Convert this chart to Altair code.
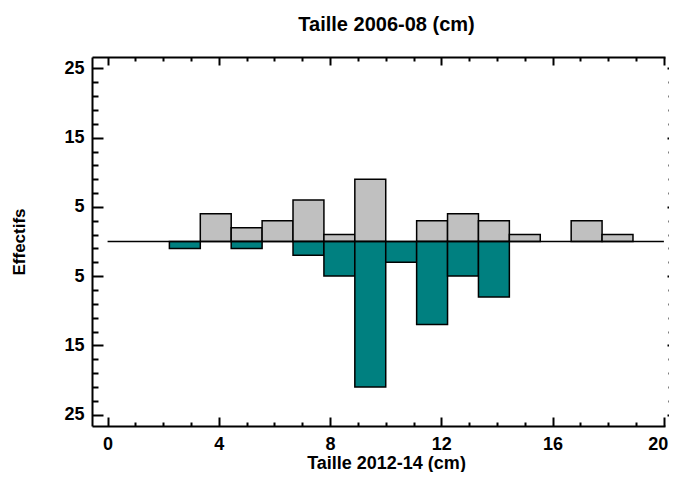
import altair as alt
import pandas as pd

# histogram counts per bin (18 bins of width 20/18 on 0..20)
bin_width = 20 / 18
grey_2006 = [0, 0, 0, 4, 2, 3, 6, 1, 9, 0, 3, 4, 3, 1, 0, 3, 1, 0]
teal_2012 = [0, 0, 1, 0, 1, 0, 2, 5, 21, 3, 12, 5, 8, 0, 0, 0, 0, 0]

x_major = [0, 4, 8, 12, 16, 20]
x_minor = [1, 2, 3, 5, 6, 7, 9, 10, 11, 13, 14, 15, 17, 18, 19]
y_major = [-25, -15, -5, 5, 15, 25]
y_minor = [-23, -21, -19, -17, -13, -11, -9, -7, -3, -1, 1, 3, 7, 9, 11, 13, 17, 19, 21, 23]
x_domain = [-0.56, 20.04]
y_domain = [-26.65, 26.65]
baseline_x = [0]
baseline_x2 = [20]

FONT = "Liberation Sans"

rows = []
for i, (g, t) in enumerate(zip(grey_2006, teal_2012)):
    rows.append({"x0": i * bin_width, "x1": (i + 1) * bin_width, "grey": g, "teal": -t, "zero": 0})
df = pd.DataFrame(rows)
grey_df = df[df.grey > 0]
teal_df = df[df.teal < 0]
base_df = pd.DataFrame({"x0": baseline_x, "x1": baseline_x2, "y": [0]})

xs = alt.Scale(domain=x_domain, nice=False, zero=False)
ys = alt.Scale(domain=y_domain, nice=False, zero=False)


def ax(orient, values, offset, size, labels=False, domain=False, ticks=True, title=None, **kw):
    args = dict(orient=orient, values=values, offset=offset, tickSize=size, labels=labels,
                domain=domain, ticks=ticks, grid=False, title=title)
    args.update(kw)
    return alt.Axis(**args)


grey = alt.Chart(grey_df).mark_bar(color="#C0C0C0", stroke="black", strokeWidth=1.5).encode(
    x=alt.X("x0:Q", scale=xs,
            axis=ax("bottom", x_major, -9, 9, labels=True, title="Taille 2012-14 (cm)",
                    labelPadding=9, labelFlush=5, labelFlushOffset=4,
                    titlePadding=1, titleFontSize=18, titleX=294)),
    x2="x1:Q",
    y=alt.Y("grey:Q", scale=ys,
            axis=ax("left", y_major, -11, 11, labels=True, title="Effectifs",
                    labelPadding=8, titlePadding=35, labelExpr="abs(datum.value)")),
    y2="zero:Q",
)

teal = alt.Chart(teal_df).mark_bar(color="#008080", stroke="black", strokeWidth=1.5).encode(
    x=alt.X("x0:Q", scale=xs, axis=ax("bottom", x_minor, -4, 4)),
    x2="x1:Q",
    y=alt.Y("teal:Q", scale=ys, axis=ax("left", y_minor, -6, 6)),
    y2="zero:Q",
)

base = alt.Chart(base_df).mark_rule(color="black", strokeWidth=1.5).encode(
    x=alt.X("x0:Q", scale=xs, axis=ax("top", x_major, -8, 8)),
    x2="x1:Q",
    y=alt.Y("y:Q", scale=ys, axis=ax("right", y_major, 2, 10)),
)

hid1 = alt.Chart(base_df).mark_rule(opacity=0).encode(
    x=alt.X("x0:Q", scale=xs, axis=ax("top", x_minor, -4, 4)),
    x2="x1:Q",
    y=alt.Y("y:Q", scale=ys, axis=ax("right", y_minor, 3, 5)),
)

hid2 = alt.Chart(base_df).mark_rule(opacity=0).encode(
    x=alt.X("x0:Q", scale=xs, axis=ax("bottom", x_major, 0, 0, domain=True, ticks=False)),
    x2="x1:Q",
    y=alt.Y("y:Q", scale=ys, axis=ax("left", y_major, 0, 0, domain=True, ticks=False)),
)

hid3 = alt.Chart(base_df).mark_rule(opacity=0).encode(
    x=alt.X("x0:Q", scale=xs, axis=ax("top", x_major, 0, 0, domain=True, ticks=False)),
    x2="x1:Q",
    y=alt.Y("y:Q", scale=ys, axis=None),
)

chart = alt.layer(grey, teal, base, hid1, hid2, hid3).resolve_axis(
    x="independent", y="independent"
).properties(
    width=573,
    height=369,
    autosize=alt.AutoSizeParams(type="none"),
    padding={"left": 84, "top": 49, "right": 4, "bottom": 46},
    title=alt.TitleParams("Taille 2006-08 (cm)", font=FONT, fontSize=20, fontWeight="bold",
                          color="black", offset=21, dx=8),
).configure_view(stroke=None).configure_axis(
    labelFont=FONT, labelFontSize=18, labelFontWeight="bold", labelColor="black",
    titleFont=FONT, titleFontSize=17, titleFontWeight="bold", titleColor="black",
    tickColor="black", tickWidth=2, domainColor="black", domainWidth=2,
)

chart.save("out.html", embed_options={"renderer": "svg", "actions": False})
